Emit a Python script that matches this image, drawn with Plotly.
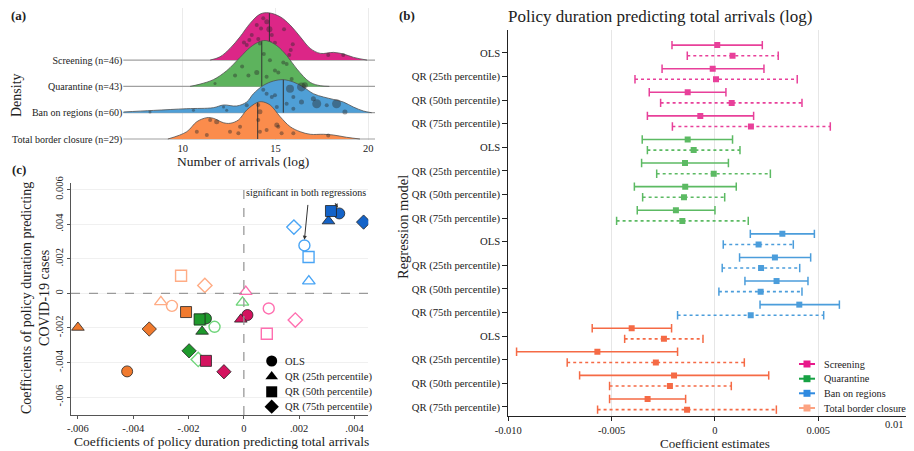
import numpy as np
import plotly.graph_objects as go

W, H = 914, 451
OX, OY = 8, 8          # the page body margin that offsets the figure inside the window
SERIF = "Liberation Serif, Times New Roman, serif"

# ---------------- Panel (a): ridgeline densities ----------------
ridge_labels = ["Screening (n=46)", "Quarantine (n=43)", "Ban on regions (n=60)", "Total border closure (n=29)"]
ridge_colors = ["#dc2687", "#5db35d", "#4f9fd6", "#fb8c4c"]

scr_x = [11.48, 12.01, 12.55, 13.09, 13.63, 14.17, 14.62, 15.25, 15.79, 16.33, 16.87, 17.41, 18.13, 18.67, 19.21, 19.93]
scr_d = [0, 0.125, 0.445, 0.886, 1.395, 1.749, 1.798, 1.646, 1.331, 0.886, 0.445, 0.255, 0.293, 0.228, 0.103, 0]
qua_x = [10.4, 10.94, 11.65, 12.37, 13.09, 13.63, 14.17, 14.53, 15.07, 15.61, 16.15, 16.87, 17.41, 17.9]
qua_d = [0, 0.087, 0.255, 0.597, 1.103, 1.483, 1.711, 1.738, 1.548, 1.167, 0.662, 0.152, 0.027, 0]
ban_x = [6.8, 8.42, 10.22, 11.65, 12.2, 12.91, 13.45, 13.81, 14.35, 14.89, 15.42, 15.96, 16.5, 17.04, 17.58, 18.11, 18.65, 19.19, 19.73, 20.18]
ban_d = [0.027, 0.087, 0.152, 0.19, 0.293, 0.255, 0.407, 0.722, 1.038, 1.205, 1.255, 1.167, 0.977, 0.722, 0.597, 0.506, 0.407, 0.217, 0.065, 0]
tot_x = [9.2, 10.22, 10.76, 11.3, 11.65, 12.19, 12.55, 13.0, 13.45, 13.99, 14.26, 14.71, 15.25, 15.79, 16.33, 16.87, 17.58, 18.11, 18.83, 19.55]
tot_d = [0, 0.278, 0.658, 0.81, 0.787, 0.62, 0.597, 0.722, 1.103, 1.38, 1.418, 1.293, 0.848, 0.468, 0.278, 0.179, 0.179, 0.152, 0.065, 0]
ridge_medians = [14.67, 14.26, 15.42, 14.04]

scr_pts_x = [14.34, 13.99, 14.53, 14.67, 14.8, 14.22, 13.72, 13.59, 13.3, 13.45, 15.46, 15.93, 15.82, 15.74, 17.84, 18.65, 14.07, 14.97, 14.7]
scr_pts_j = [1.59, 1.33, 1.46, 1.17, 0.95, 1.2, 0.95, 0.76, 0.67, 0.57, 1.17, 0.6, 0.38, 0.19, 0.19, 0.19, 0.8, 0.66, 0.66]
scr_pts_w = [4, 4, 5, 6, 4, 4, 4, 4, 4, 4, 4, 4, 4, 4, 4, 4, 4, 4, 4]
qua_pts_x = [14.16, 14.37, 13.54, 13.99, 14.97, 15.15, 15.42, 15.6, 12.82, 14.52, 11.74, 15.87, 13.2, 14.7]
qua_pts_j = [1.63, 1.23, 0.41, 0.53, 0.6, 0.53, 0.91, 0.85, 0.41, 0.37, 0.11, 0.28, 0.76, 0.99]
qua_pts_w = [4, 4, 4, 5, 4, 4, 4, 4, 4, 4, 3, 4, 4, 4]
ban_pts_x = [15.78, 16.4, 16.58, 15.96, 14.97, 14.8, 14.34, 14.52, 17.22, 17.04, 18.29, 18.74, 16.4, 15.6, 15.07, 13.45, 12.37, 12.2, 10.58, 8.24, 17.76, 15.96]
ban_pts_j = [0.91, 0.98, 1.04, 0.6, 0.66, 0.6, 0.87, 0.72, 0.34, 0.53, 0.34, 0.03, 0.41, 0.34, 0.22, 0.28, 0.09, 0.22, 0.09, 0.03, 0.28, 0.15]
ban_pts_w = [8, 9, 6, 4, 4, 4, 4, 4, 9, 5, 9, 5, 5, 4, 4, 4, 3, 3, 3, 3, 4, 4]
tot_pts_x = [11.48, 11.83, 10.76, 11.3, 12.55, 13.09, 13.0, 14.07, 14.16, 14.07, 14.16, 15.07, 15.15, 15.33, 15.96, 17.84, 14.52]
tot_pts_j = [0.72, 0.66, 0.28, 0.15, 0.28, 0.47, 0.22, 1.29, 1.04, 0.72, 0.28, 0.53, 0.47, 0.22, 0.22, 0.13, 0.34]
tot_pts_w = [4, 5, 4, 4, 4, 4, 4, 4, 5, 4, 4, 5, 4, 4, 4, 4, 4]

# ---------------- Panel (b): coefficient estimates ----------------
policies = ["Screening", "Quarantine", "Ban on regions", "Total border closure"]
models = ["OLS", "QR (25th percentile)", "QR (50th percentile)", "QR (75th percentile)"]
line_colors = ["#e8409a", "#5cba63", "#4b9ddb", "#f56a45"]
legend_colors = ["#e8198b", "#17a244", "#2f8ae0", "#fca382"]

est_a = [[0.00011, -0.00011, -0.00132, -0.00071],
         [-0.00132, -0.00145, -0.00144, -0.00189],
         [0.00326, 0.0029, 0.00298, 0.00408],
         [-0.00403, -0.00569, -0.00198, -0.00326]]
lo_a = [[-0.00208, -0.00256, -0.00318, -0.00327],
        [-0.00352, -0.00355, -0.0039, -0.00376],
        [0.00171, 0.00119, 0.00145, 0.00218],
        [-0.00594, -0.0096, -0.00655, -0.0051]]
hi_a = [[0.00229, 0.00237, 0.00053, 0.00187],
        [0.00085, 0.00065, 0.00103, 0.0],
        [0.00481, 0.00463, 0.0045, 0.00602],
        [-0.0021, -0.00181, 0.0026, -0.00142]]
est_b = [[0.00085, 0.00005, 0.00081, 0.00174],
         [-0.00103, -0.00006, -0.0015, -0.00158],
         [0.00211, 0.00223, 0.00221, 0.00173],
         [-0.00247, -0.00286, -0.00218, -0.00135]]
lo_b = [[-0.00134, -0.00387, -0.00263, -0.00206],
        [-0.00327, -0.00282, -0.0035, -0.00476],
        [0.0004, 0.00035, 0.00019, -0.00181],
        [-0.00437, -0.00715, -0.0051, -0.00568]]
hi_b = [[0.00306, 0.00398, 0.00421, 0.00558],
        [0.00121, 0.00268, 0.00047, 0.00161],
        [0.00379, 0.0041, 0.00421, 0.00526],
        [-0.00058, 0.00142, 0.00079, 0.00297]]
b_xticks = [-0.01, -0.005, 0, 0.005]
b_xticktext = ["-0.010", "-0.005", "0", "0.005"]

# ---------------- Panel (c): scatter ----------------
symbols = ["circle", "triangle-up", "square", "diamond"]
fill_colors = ["#d4135f", "#1e9a2c", "#1463c8", "#f07a2e"]
open_colors = ["#ff6fb0", "#6fd57a", "#4aa5f5", "#ffac85"]
c_fill_x = [[0.00013, -0.00011, -0.00137, -0.00072],
            [-0.00137, -0.00151, -0.0016, -0.00198],
            [0.00345, 0.00306, 0.00315, 0.00433],
            [-0.00422, -0.006, -0.00209, -0.00342]]
c_fill_y = [[-0.00125, -0.0015, -0.0039, -0.00453],
            [-0.00145, -0.0022, -0.0015, -0.00332],
            [0.00462, 0.00418, 0.00476, 0.00412],
            [-0.00451, -0.00197, -0.00108, -0.00206]]
c_open_x = [[0.0009, 0.00007, 0.00083, 0.00186],
            [-0.00106, -0.00005, -0.00158, -0.00165],
            [0.00219, 0.00235, 0.00234, 0.00181],
            [-0.0026, -0.003, -0.00227, -0.00141]]
c_open_y = [[-0.00087, 0.0001, -0.00233, -0.00154],
            [-0.00193, -0.00052, -0.00152, -0.00382],
            [0.00277, 0.00071, 0.0021, 0.00383],
            [-0.00072, -0.00049, 0.00102, 0.00046]]
c_ticks = [-0.006, -0.004, -0.002, 0, 0.002, 0.004, 0.006]
c_xticktext = ["-.006", "-.004", "-.002", "0", ".002", ".004", ".006"]
c_yticktext = ["-.006", "-.004", "-.002", "0", ".002", ".004", "0.006"]

fig = go.Figure()

# ---- Panel (a) traces ----
XA = [6.8, 20.36]
XA_TICK = 6.58   # baselines run slightly past the left edge, acting as the tick marks
ridge_x = [scr_x, qua_x, ban_x, tot_x]
ridge_d = [scr_d, qua_d, ban_d, tot_d]
pts_x = [scr_pts_x, qua_pts_x, ban_pts_x, tot_pts_x]
pts_j = [scr_pts_j, qua_pts_j, ban_pts_j, tot_pts_j]
pts_w = [scr_pts_w, qua_pts_w, ban_pts_w, tot_pts_w]
bases = [3, 2, 1, 0]
for i in range(4):
    b = bases[i]
    fig.add_trace(go.Scatter(x=[XA_TICK, XA[1]], y=[b, b], mode="lines", line=dict(color="#a0a0a0", width=1.2),
                             cliponaxis=False, xaxis="x", yaxis="y", showlegend=False, hoverinfo="skip"))
    fig.add_trace(go.Scatter(x=ridge_x[i], y=[b] * len(ridge_x[i]), mode="lines",
                             line=dict(width=0, color=ridge_colors[i]),
                             xaxis="x", yaxis="y", showlegend=False, hoverinfo="skip"))
    fig.add_trace(go.Scatter(x=ridge_x[i], y=[b + d for d in ridge_d[i]], mode="lines",
                             line=dict(color="#505050", width=0.8, shape="spline", smoothing=1.0),
                             fill="tonexty", fillcolor=ridge_colors[i],
                             xaxis="x", yaxis="y", showlegend=False, hoverinfo="skip"))
    m = ridge_medians[i]
    top = float(np.interp(m, ridge_x[i], ridge_d[i]))
    fig.add_trace(go.Scatter(x=[m, m], y=[b, b + top], mode="lines", line=dict(color="#333333", width=1),
                             xaxis="x", yaxis="y", showlegend=False, hoverinfo="skip"))
    fig.add_trace(go.Scatter(x=pts_x[i], y=[b + j for j in pts_j[i]], mode="markers",
                             marker=dict(size=pts_w[i], color="rgba(40,40,40,0.6)", line=dict(width=0)),
                             xaxis="x", yaxis="y", showlegend=False, hoverinfo="skip"))

# ---- Panel (b) traces ----
DOT_OFF = 0.45
for p in range(4):
    col = line_colors[p]
    for est, lo, hi, off, dash in [(est_a, lo_a, hi_a, 0.0, "solid"), (est_b, lo_b, hi_b, DOT_OFF, "dot")]:
        xs, ys, cx, cy, ex, ey = [], [], [], [], [], []
        for m in range(4):
            r = p * 4 + m + off
            xs += [lo[p][m], hi[p][m], None]
            ys += [r, r, None]
            cx += [lo[p][m], hi[p][m]]
            cy += [r, r]
            ex.append(est[p][m])
            ey.append(r)
        fig.add_trace(go.Scatter(x=xs, y=ys, mode="lines", line=dict(color=col, width=1.6, dash=dash),
                                 xaxis="x3", yaxis="y3", showlegend=False, hoverinfo="skip"))
        fig.add_trace(go.Scatter(x=cx, y=cy, mode="markers",
                                 marker=dict(symbol="line-ns", size=6, line=dict(color=col, width=1.5)),
                                 xaxis="x3", yaxis="y3", showlegend=False, hoverinfo="skip"))
        fig.add_trace(go.Scatter(x=ex, y=ey, mode="markers",
                                 marker=dict(symbol="square", size=6, color=col),
                                 xaxis="x3", yaxis="y3", showlegend=False, hoverinfo="skip"))

# ---- Panel (c) traces ----
for p in range(4):
    for m in range(4):
        fig.add_trace(go.Scatter(x=[c_open_x[p][m]], y=[c_open_y[p][m]], mode="markers",
                                 marker=dict(symbol=symbols[m] + "-open", size=11, color=open_colors[p],
                                             line=dict(width=1.4)),
                                 xaxis="x2", yaxis="y2", showlegend=False, hoverinfo="skip"))
for p in range(4):
    for m in range(4):
        fig.add_trace(go.Scatter(x=[c_fill_x[p][m]], y=[c_fill_y[p][m]], mode="markers",
                                 marker=dict(symbol=symbols[m], size=11, color=fill_colors[p],
                                             line=dict(color="#222222", width=0.8)),
                                 xaxis="x2", yaxis="y2", showlegend=False, hoverinfo="skip"))

# ---- Hand-built legends on a full-window overlay axis (window pixel units) ----
LEG_B_Y = [364, 378.7, 393.3, 408]
LEG_C_Y = [361, 376.5, 391.8, 406.7]
for p in range(4):
    yy = LEG_B_Y[p]
    fig.add_trace(go.Scatter(x=[799, 815], y=[yy, yy], mode="lines", line=dict(color=legend_colors[p], width=2),
                             xaxis="x4", yaxis="y4", showlegend=False, hoverinfo="skip"))
    fig.add_trace(go.Scatter(x=[807], y=[yy], mode="markers",
                             marker=dict(symbol="square", size=7, color=legend_colors[p]),
                             xaxis="x4", yaxis="y4", showlegend=False, hoverinfo="skip"))
for m in range(4):
    fig.add_trace(go.Scatter(x=[271.7], y=[LEG_C_Y[m]], mode="markers",
                             marker=dict(symbol=symbols[m], size=11, color="black"),
                             xaxis="x4", yaxis="y4", showlegend=False, hoverinfo="skip"))


def px(x):
    return min(1.0, max(0.0, (x - OX) / W))


def py(y):
    return min(1.0, max(0.0, 1 - (y - OY) / H))


font = dict(family=SERIF, color="#222222")

fig.update_layout(
    width=W, height=H, margin=dict(l=0, r=0, t=0, b=0, autoexpand=False),
    paper_bgcolor="white", plot_bgcolor="rgba(0,0,0,0)", showlegend=False,
    font=dict(family=SERIF, size=11, color="#222222"),
    # panel (a)
    xaxis=dict(domain=[px(123.3), px(375)], range=XA, anchor="y", tickvals=[10, 15, 20],
               showgrid=True, gridcolor="#ebebeb", zeroline=False, showline=False, ticks="",
               tickfont=dict(size=10.5)),
    yaxis=dict(domain=[py(140), py(8)], range=[-0.038, 4.98], anchor="x", tickvals=bases,
               ticktext=ridge_labels, showgrid=False, zeroline=False, showline=False,
               ticks="", tickfont=dict(size=10)),
    # panel (c)
    xaxis2=dict(domain=[px(71), px(368.3)], range=[-0.00625, 0.0045], anchor="y2",
                tickvals=c_ticks, ticktext=c_xticktext, showgrid=False, zeroline=False,
                showline=True, linecolor="#555555", linewidth=1, ticks="outside", ticklen=3,
                tickcolor="#555555", tickfont=dict(size=10.5)),
    yaxis2=dict(domain=[py(415), py(183)], range=[-0.00703, 0.00638], anchor="x2",
                tickvals=c_ticks, ticktext=c_yticktext, tickangle=-90, showgrid=True,
                gridcolor="#f0f0f0", zeroline=False, showline=True, linecolor="#555555",
                linewidth=1, ticks="outside", ticklen=3, tickcolor="#555555", tickfont=dict(size=10.5)),
    # panel (b)
    xaxis3=dict(domain=[px(508.3), px(914)], range=[-0.01, 0.00963], anchor="y3",
                tickvals=b_xticks, ticktext=b_xticktext,
                showgrid=True, gridcolor="#e6e6e6", zeroline=False, showline=True,
                linecolor="#222222", linewidth=1, ticks="outside", ticklen=4, tickcolor="#222222",
                tickfont=dict(size=10.5)),
    yaxis3=dict(domain=[py(416), py(30)], range=[15.72, -0.64], anchor="x3",
                tickvals=[r + 0.33 for r in range(16)], ticktext=models * 4,
                showgrid=False, zeroline=False, showline=True, linecolor="#222222", linewidth=1,
                ticks="outside", ticklen=5, tickcolor="#222222", tickfont=dict(size=10.7)),
    # overlay axis in window pixel units, used only for legend symbols
    xaxis4=dict(domain=[0, 1], range=[OX, W + OX], anchor="y4", visible=False, fixedrange=True),
    yaxis4=dict(domain=[0, 1], range=[H + OY, OY], anchor="x4", visible=False, fixedrange=True),
    shapes=[
        dict(type="line", xref="x2", yref="y2", x0=0, x1=0, y0=-0.00703, y1=0.00638,
             line=dict(color="#9a9a9a", width=1.3, dash="dash")),
        dict(type="line", xref="x2", yref="y2", x0=-0.00625, x1=0.0045, y0=0, y1=0,
             line=dict(color="#9a9a9a", width=1.3, dash="dash")),
    ],
)

ann = [
    dict(text="<b>(a)</b>", x=px(9), y=py(16), xanchor="left", font=dict(size=13)),
    dict(text="<b>(b)</b>", x=px(397), y=py(16), xanchor="left", font=dict(size=13)),
    dict(text="<b>(c)</b>", x=px(10), y=py(170), xanchor="left", font=dict(size=13)),
    dict(text="Density", x=px(17), y=py(95), textangle=-90, font=dict(size=14)),
    dict(text="Number of arrivals (log)", x=px(243), y=py(161), font=dict(size=13.5)),
    dict(text="Policy duration predicting total arrivals (log)", x=px(660), y=py(17), font=dict(size=17)),
    dict(text="Regression model", x=px(403), y=py(227), textangle=-90, font=dict(size=14.5)),
    dict(text="Coefficient estimates", x=px(715), y=py(443), font=dict(size=13)),
    dict(text="0.01", x=px(905), y=py(424), xanchor="right", font=dict(size=10.5)),
    dict(text="Coefficients of policy duration predicting total arrivals", x=px(221), y=py(441),
         font=dict(size=13.5)),
    dict(text="Coefficients of policy duration predicting<br>COVID-19 cases", x=px(35), y=py(298),
         textangle=-90, font=dict(size=14)),
    dict(text="significant in both regressions", x=px(306), y=py(193), font=dict(size=10)),
]
for p in range(4):
    ann.append(dict(text=policies[p], x=px(822), y=py(LEG_B_Y[p]), xanchor="left", font=dict(size=10.2)))
for m in range(4):
    ann.append(dict(text=models[m], x=px(283), y=py(LEG_C_Y[m]), xanchor="left", font=dict(size=10.5)))
for a in ann:
    a.setdefault("xref", "paper")
    a.setdefault("yref", "paper")
    a.setdefault("xanchor", "center")
    a.setdefault("yanchor", "middle")
    a.setdefault("showarrow", False)
    f = dict(font)
    f.update(a["font"])
    a["font"] = f
    fig.add_annotation(**a)

# arrows from the label to the highlighted points
fig.add_annotation(x=0.00219, y=0.0031, ax=0.00232, ay=0.0052, xref="x2", yref="y2",
                   axref="x2", ayref="y2", text="", showarrow=True, arrowhead=2, arrowsize=0.8,
                   arrowwidth=1, arrowcolor="#333333")
fig.add_annotation(x=0.0034, y=0.00495, ax=0.00327, ay=0.0053, xref="x2", yref="y2",
                   axref="x2", ayref="y2", text="", showarrow=True, arrowhead=2, arrowsize=0.8,
                   arrowwidth=1, arrowcolor="#333333")

fig.write_html("out.html")
